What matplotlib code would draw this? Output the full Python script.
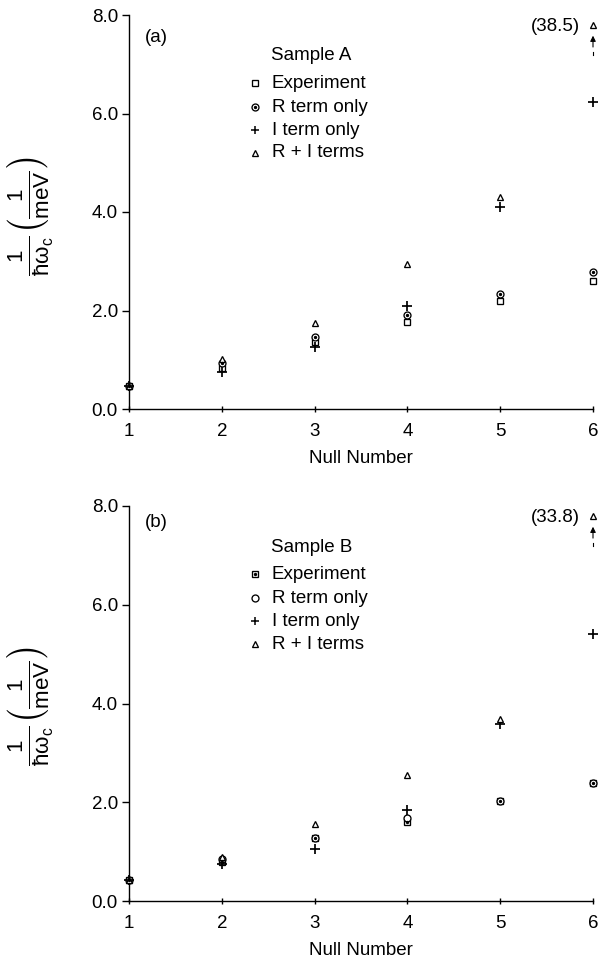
import numpy as np
import matplotlib
matplotlib.use("Agg")
import matplotlib.pyplot as plt

plt.rcParams['font.family'] = ['Liberation Sans', 'DejaVu Sans']
plt.rcParams['mathtext.fontset'] = 'custom'
plt.rcParams['mathtext.rm'] = 'Liberation Sans'
plt.rcParams['mathtext.it'] = 'Liberation Sans:italic'
plt.rcParams['mathtext.bf'] = 'Liberation Sans:bold'

# Null number (x axis)
null_number = [1, 2, 3, 4, 5, 6]

# Sample A: 1/(hbar omega_c) in 1/meV
exp_a = [0.47, 0.84, 1.36, 1.76, 2.19, 2.60]
r_only_a = [0.47, 0.93, 1.46, 1.90, 2.34, 2.78]
i_only_a = [0.47, 0.76, 1.26, 2.09, 4.10, 6.23]
r_plus_i_a = [0.47, 1.02, 1.75, 2.95, 4.30, 38.5]

# Sample B
exp_b = [0.42, 0.80, 1.27, 1.60, 2.03, 2.40]
r_only_b = [0.42, 0.86, 1.27, 1.68, 2.03, 2.40]
i_only_b = [0.42, 0.75, 1.05, 1.84, 3.58, 5.40]
r_plus_i_b = [0.42, 0.90, 1.56, 2.56, 3.69, 33.8]

y_ticks = [0.0, 2.0, 4.0, 6.0, 8.0]
x_ticks = [1, 2, 3, 4, 5, 6]
legend_labels = ["Experiment", "R term only", "I term only", "R + I terms"]

Y_MAX = 8.0
OFFSCALE = 7.8   # where points above the axis range are parked

FS = 13.5
MS = 5.0
LW = 0.95

fig = plt.figure(figsize=(5.99, 9.61), dpi=100)
W, H = 599.0, 961.0


def px_axes(left, right, top, bottom):
    return [left / W, 1 - bottom / H, (right - left) / W, (bottom - top) / H]


ax_a = fig.add_axes(px_axes(129, 593, 15, 409))
ax_b = fig.add_axes(px_axes(129, 593, 506, 901))


def draw_series(ax, x, y, marker, dotted=False, size=MS):
    ax.plot(x, y, linestyle='none', marker=marker, markersize=size,
            markerfacecolor='white' if marker != '+' else 'black',
            markeredgecolor='black',
            markeredgewidth=LW if marker != '+' else 1.25,
            clip_on=False, zorder=3)
    if dotted:
        ax.plot(x, y, linestyle='none', marker='o', markersize=1.4,
                markerfacecolor='black', markeredgecolor='black',
                clip_on=False, zorder=4)


def legend_key(ax, xf, yf, marker, dotted=False):
    ax.plot([xf], [yf], transform=ax.transAxes, linestyle='none', marker=marker,
            markersize={'^': 4.6, '+': 6.0}.get(marker, MS),
            markerfacecolor='white' if marker != '+' else 'black',
            markeredgecolor='black',
            markeredgewidth=LW if marker != '+' else 1.1, clip_on=False)
    if dotted:
        ax.plot([xf], [yf], transform=ax.transAxes, linestyle='none', marker='o',
                markersize=1.4, color='black', clip_on=False)


def panel(ax, tag, tag_y, sample, exp, r_only, i_only, r_plus_i,
          exp_dotted, r_dotted):
    x = np.array(null_number)
    ri = np.array(r_plus_i)
    ri_shown = np.minimum(ri, OFFSCALE)

    draw_series(ax, x, exp, 's', dotted=exp_dotted, size=4.8)
    draw_series(ax, x, r_only, 'o', dotted=r_dotted)
    draw_series(ax, x, i_only, '+', size=7.5)
    draw_series(ax, x, ri_shown, '^', size=4.6)

    # Off-scale points: print the true value and an upward arrow
    for xi, vi, si in zip(x, ri, ri_shown):
        if vi > Y_MAX:
            ax.text(xi - 0.14, si - 0.03, f"({vi:.1f})", ha='right', va='center',
                    fontsize=FS)
            ax.annotate("", xy=(xi, si - 0.22), xytext=(xi, si - 0.45),
                        arrowprops=dict(arrowstyle='-|>', lw=0.8, color='black',
                                        mutation_scale=8, shrinkA=0, shrinkB=0),
                        annotation_clip=False)
            ax.plot([xi, xi], [si - 0.62, si - 0.55], color='black', lw=0.8,
                    clip_on=False)

    ax.set_xlim(1, 6)
    ax.set_ylim(0, Y_MAX)
    ax.set_xticks(x_ticks)
    ax.set_yticks(y_ticks)
    ax.set_yticklabels([f"{v:.1f}" for v in y_ticks])
    for s in ['top', 'right']:
        ax.spines[s].set_visible(False)
    for s in ['left', 'bottom']:
        ax.spines[s].set_linewidth(1.0)
    ax.tick_params(axis='y', direction='out', length=5, width=1.0, pad=3,
                   labelsize=FS)
    ax.tick_params(axis='x', direction='inout', length=5, width=1.0, pad=7.5,
                   labelsize=FS)
    ax.set_xlabel("Null Number", fontsize=FS, labelpad=7)

    ax.text(0.034, tag_y, tag, transform=ax.transAxes, ha='left', va='center',
            fontsize=FS)

    # Legend block
    ax.text(0.305, 0.896, sample, transform=ax.transAxes, ha='left',
            va='center', fontsize=FS)
    rows = [0.827, 0.766, 0.708, 0.650]
    keys = [('s', exp_dotted), ('o', r_dotted), ('+', False), ('^', False)]
    for yf, (mk, dt), lab in zip(rows, keys, legend_labels):
        legend_key(ax, 0.272, yf, mk, dt)
        ax.text(0.308, yf, lab, transform=ax.transAxes, ha='left',
                va='center', fontsize=FS)


panel(ax_a, "(a)", 0.943, "Sample A", exp_a, r_only_a, i_only_a, r_plus_i_a,
      exp_dotted=False, r_dotted=True)
panel(ax_b, "(b)", 0.957, "Sample B", exp_b, r_only_b, i_only_b, r_plus_i_b,
      exp_dotted=True, r_dotted=False)

ylabel = (r'$\frac{1}{\mathrm{\hbar}\mathrm{\omega}_{\mathrm{c}}}'
          r'\left(\frac{1}{\mathrm{meV}}\right)$')
for cy in (216, 706):
    fig.text(31 / W, 1 - cy / H, ylabel, rotation=90, ha='center', va='center',
             fontsize=23)

fig.savefig("out.png", dpi=100)
